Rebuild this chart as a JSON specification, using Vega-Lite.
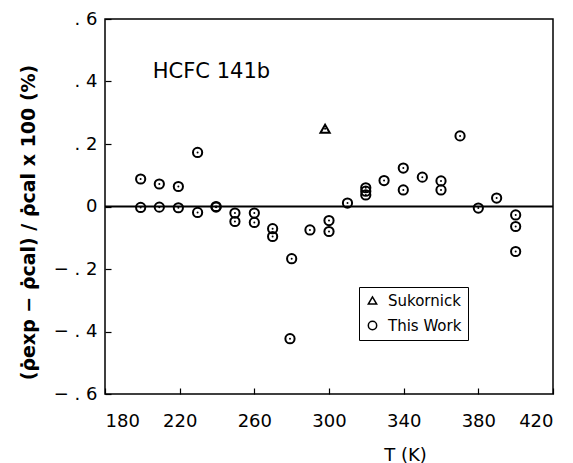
{
  "$schema": "https://vega.github.io/schema/vega-lite/v6.json",
  "width": 448,
  "height": 375,
  "autosize": {"type": "none"},
  "padding": {"left": 105, "top": 19, "right": 20, "bottom": 69},
  "background": "white",
  "config": {
    "view": {"stroke": "black", "strokeWidth": 1.5},
    "font": "DejaVu Sans",
    "axis": {"grid": false, "domain": false, "ticks": true, "tickColor": "black", "tickSize": -6, "tickWidth": 1.2, "labelColor": "black", "labelFont": "DejaVu Sans", "labelFontSize": 18, "titleColor": "black"}
  },
  "datasets": {
    "pts": [
      {"T": 199.1, "d": 0.088, "src": "This Work"},
      {"T": 199.1, "d": -0.003, "src": "This Work"},
      {"T": 209.1, "d": 0.072, "src": "This Work"},
      {"T": 209.1, "d": -0.002, "src": "This Work"},
      {"T": 219.3, "d": 0.064, "src": "This Work"},
      {"T": 219.3, "d": -0.004, "src": "This Work"},
      {"T": 229.6, "d": 0.173, "src": "This Work"},
      {"T": 229.6, "d": -0.019, "src": "This Work"},
      {"T": 239.5, "d": 0.0, "src": "This Work"},
      {"T": 239.5, "d": -0.002, "src": "This Work"},
      {"T": 249.6, "d": -0.021, "src": "This Work"},
      {"T": 249.6, "d": -0.048, "src": "This Work"},
      {"T": 260.0, "d": -0.021, "src": "This Work"},
      {"T": 260.0, "d": -0.051, "src": "This Work"},
      {"T": 269.8, "d": -0.071, "src": "This Work"},
      {"T": 269.8, "d": -0.096, "src": "This Work"},
      {"T": 280.0, "d": -0.167, "src": "This Work"},
      {"T": 279.1, "d": -0.423, "src": "This Work"},
      {"T": 289.8, "d": -0.075, "src": "This Work"},
      {"T": 300.0, "d": -0.045, "src": "This Work"},
      {"T": 300.0, "d": -0.08, "src": "This Work"},
      {"T": 309.9, "d": 0.011, "src": "This Work"},
      {"T": 319.7, "d": 0.06, "src": "This Work"},
      {"T": 319.7, "d": 0.049, "src": "This Work"},
      {"T": 319.7, "d": 0.037, "src": "This Work"},
      {"T": 329.5, "d": 0.083, "src": "This Work"},
      {"T": 339.8, "d": 0.123, "src": "This Work"},
      {"T": 339.8, "d": 0.053, "src": "This Work"},
      {"T": 350.0, "d": 0.094, "src": "This Work"},
      {"T": 360.0, "d": 0.082, "src": "This Work"},
      {"T": 360.0, "d": 0.053, "src": "This Work"},
      {"T": 370.2, "d": 0.226, "src": "This Work"},
      {"T": 380.0, "d": -0.005, "src": "This Work"},
      {"T": 389.8, "d": 0.027, "src": "This Work"},
      {"T": 400.0, "d": -0.027, "src": "This Work"},
      {"T": 400.0, "d": -0.064, "src": "This Work"},
      {"T": 400.0, "d": -0.144, "src": "This Work"},
      {"T": 297.9, "d": 0.249, "src": "Sukornick"}
    ],
    "label": [{"T": 205.6, "d": 0.429, "text": "HCFC 141b"}],
    "zero": [{"d": 0}]
  },
  "layer": [
    {
      "data": {"name": "zero"},
      "mark": {"type": "rule", "color": "black", "strokeWidth": 2.2},
      "encoding": {"y": {"field": "d", "type": "quantitative"}}
    },
    {
      "data": {"name": "pts"},
      "mark": {"type": "point", "filled": false, "strokeWidth": 2, "color": "black", "opacity": 1, "size": 85},
      "encoding": {
        "x": {"field": "T", "type": "quantitative", "scale": {"domain": [180, 420], "nice": false, "zero": false},
              "axis": {"values": [180, 220, 260, 300, 340, 380, 420], "labelPadding": 24, "title": "T  (K)", "titleFont": "DejaVu Sans", "titleFontSize": 18, "titleFontWeight": "normal", "titleX": 300, "titleY": 61, "titleAlign": "center", "titleBaseline": "middle"}},
        "y": {"field": "d", "type": "quantitative", "scale": {"domain": [-0.6, 0.6], "nice": false},
              "axis": {"values": [-0.6, -0.4, -0.2, 0, 0.2, 0.4, 0.6], "labelPadding": 14, "labelExpr": "datum.value == 0 ? '0' : (datum.value < 0 ? '− ' : '') + replace(format(abs(datum.value), '.1f'), '0.', '. ')", "title": "(ρ̇exp − ρ̇cal) / ρ̇cal x 100 (%)", "titleFont": "DejaVu Sans", "titleFontSize": 19, "titleFontWeight": "bold", "titleX": -77, "titleY": 203, "titleAlign": "center", "titleBaseline": "middle", "titleAngle": -90}},
        "shape": {"field": "src", "type": "nominal",
                  "scale": {"domain": ["Sukornick", "This Work"], "range": ["triangle-up", "circle"]},
                  "legend": {"title": null, "orient": "none", "legendX": 254, "legendY": 268, "strokeColor": "black", "padding": 6, "labelFontSize": 15, "labelFont": "DejaVu Sans", "labelColor": "black", "symbolStrokeColor": "black", "symbolStrokeWidth": 1.5, "symbolSize": 70, "symbolFillColor": "white", "rowPadding": 9, "labelOffset": 8, "fillColor": "white", "labelLimit": 200}}
      }
    },
    {
      "data": {"name": "pts"},
      "mark": {"type": "point", "filled": true, "color": "black", "size": 4, "opacity": 1},
      "encoding": {
        "x": {"field": "T", "type": "quantitative"},
        "y": {"field": "d", "type": "quantitative"}
      }
    },
    {
      "data": {"name": "label"},
      "mark": {"type": "text", "align": "left", "baseline": "middle", "fontSize": 21, "font": "DejaVu Sans", "color": "black"},
      "encoding": {
        "x": {"field": "T", "type": "quantitative"},
        "y": {"field": "d", "type": "quantitative"},
        "text": {"field": "text"}
      }
    }
  ]
}
